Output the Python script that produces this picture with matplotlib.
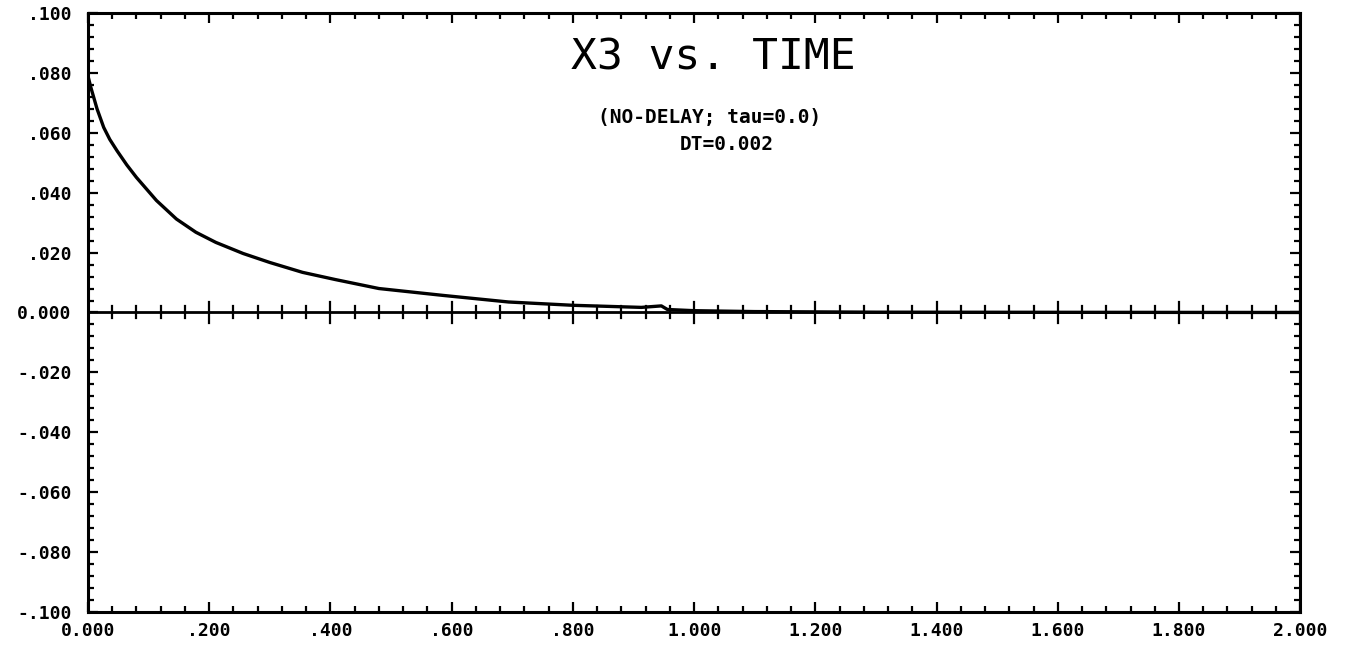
import numpy as np
import matplotlib
matplotlib.use("Agg")
import matplotlib.pyplot as plt

# values
time = [0.0, 0.005, 0.015, 0.026, 0.036, 0.048, 0.064, 0.08, 0.113, 0.146,
        0.178, 0.211, 0.256, 0.3, 0.354, 0.408, 0.48, 0.586, 0.694, 0.8,
        0.913, 0.946, 0.956, 1.0, 1.1, 1.3, 2.0]
x3 = [0.079, 0.075, 0.068, 0.0618, 0.0578, 0.054, 0.0493, 0.0451, 0.0374,
      0.0312, 0.0268, 0.0234, 0.0197, 0.0167, 0.0134, 0.011, 0.008, 0.0057,
      0.0035, 0.0024, 0.0017, 0.0022, 0.001, 0.0006, 0.0003, 0.0001, 0.0]

x_ticks = [0.0, 0.2, 0.4, 0.6, 0.8, 1.0, 1.2, 1.4, 1.6, 1.8, 2.0]
x_labels = ["0.000", ".200", ".400", ".600", ".800", "1.000", "1.200",
            "1.400", "1.600", "1.800", "2.000"]
y_ticks = [0.1, 0.08, 0.06, 0.04, 0.02, 0.0, -0.02, -0.04, -0.06, -0.08, -0.1]
y_labels = [".100", ".080", ".060", ".040", ".020", "0.000", "-.020",
            "-.040", "-.060", "-.080", "-.100"]

mono = "DejaVu Sans Mono"

fig = plt.figure(figsize=(13.53, 6.51), dpi=100)
ax = fig.add_axes([0.065, 0.06, 0.896, 0.92])

ax.plot(time, x3, color="black", linewidth=2.4, solid_capstyle="round",
        solid_joinstyle="round")

ax.set_xlim(0, 2.0)
ax.set_ylim(-0.1, 0.1)

for side in ax.spines.values():
    side.set_linewidth(2.2)

ax.set_xticks(x_ticks)
ax.set_xticklabels(x_labels, fontfamily=mono, fontweight="bold", fontsize=13)
ax.set_yticks(y_ticks)
ax.set_yticklabels(y_labels, fontfamily=mono, fontweight="bold", fontsize=13)
ax.set_xticks(np.arange(0, 2.0001, 0.04), minor=True)
ax.set_yticks(np.arange(-0.1, 0.1001, 0.004), minor=True)
ax.tick_params(which="both", direction="in", top=True, right=True, width=1.6)
ax.tick_params(which="major", length=7)
ax.tick_params(which="minor", length=4)
ax.tick_params(axis="x", which="major", pad=7)
ax.tick_params(axis="y", which="major", pad=12)

# zero line with ticks crossing it
ax.axhline(0, color="black", linewidth=2)
for t in np.arange(0, 2.0001, 0.04):
    h = 0.0035 if abs(t / 0.2 - round(t / 0.2)) < 1e-6 else 0.002
    ax.plot([t, t], [-h, h], color="black", linewidth=1.6)

ax.text(0.516, 0.925, "X3 vs. TIME", transform=ax.transAxes, ha="center",
        va="center", fontfamily=mono, fontsize=31)
ax.text(0.513, 0.826, "(NO-DELAY; tau=0.0)", transform=ax.transAxes,
        ha="center", va="center", fontfamily=mono, fontweight="bold",
        fontsize=14)
ax.text(0.527, 0.78, "DT=0.002", transform=ax.transAxes, ha="center",
        va="center", fontfamily=mono, fontweight="bold", fontsize=14)

fig.savefig("out.png", dpi=100, facecolor="white")
